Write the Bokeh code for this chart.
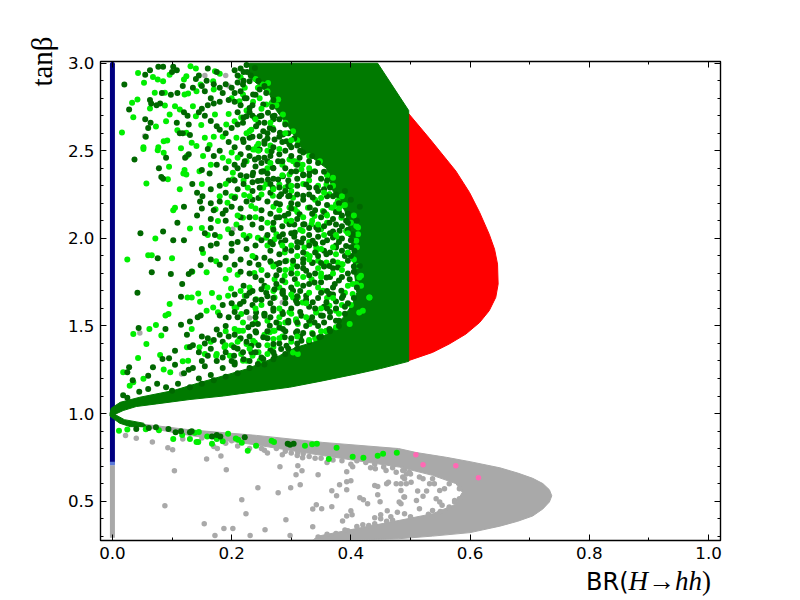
from bokeh.plotting import figure
from bokeh.models import LinearAxis, FixedTicker, Range1d, PrintfTickFormatter, Div
from bokeh.layouts import column
from bokeh.embed import file_html
from bokeh.resources import INLINE

X_MAJOR = [0.0, 0.2, 0.4, 0.6, 0.8, 1.0]
X_MINOR = [0.1, 0.3, 0.5, 0.7, 0.9]
Y_MAJOR = [0.5, 1.0, 1.5, 2.0, 2.5, 3.0]
Y_MINOR = [0.3, 0.4, 0.6, 0.7, 0.8, 0.9, 1.1, 1.2, 1.3, 1.4, 1.6, 1.7, 1.8, 1.9, 2.1, 2.2, 2.3, 2.4, 2.6, 2.7, 2.8, 2.9]

GRAY_REGION = [(.004,.994),(.018,.96),(.05,.94),(.13,.907),(.242,.875),(.353,.835),(.48,.80),(.51,.777),(.56,.75),(.60,.725),(.65,.69),(.68,.66),(.705,.63),(.722,.60),(.733,.565),(.737,.53),(.733,.495),(.722,.455),(.705,.415),(.68,.385),(.65,.357),(.60,.32),(.537,.30),(.48,.285),(.40,.277),(.336,.277),(.345,.30),(.409,.343),(.4816,.39),(.537,.428),(.575,.48),(.587,.55),(.576,.60),(.537,.647),(.4816,.694),(.353,.76),(.242,.82),(.13,.875),(.04,.93),(.0,.97)]
RED_REGION = [(.495,2.72),(.532,2.57),(.576,2.385),(.599,2.262),(.616,2.148),(.632,2.024),(.641,1.938),(.646,1.853),(.647,1.739),(.643,1.663),(.632,1.587),(.616,1.520),(.593,1.454),(.565,1.397),(.537,1.349),(.495,1.30)]
GREEN_REGION = [(-.004,1.0),(-.002,1.03),(.013,1.064),(.046,1.093),(.102,1.131),(.15,1.18),(.197,1.226),(.225,1.254),(.253,1.293),(.28,1.33),(.308,1.378),(.336,1.406),(.364,1.463),(.387,1.549),(.403,1.625),(.41,1.69),(.405,1.83),(.40,2.02),(.39,2.157),(.37,2.27),(.359,2.40),(.32,2.50),(.297,2.63),(.275,2.73),(.264,2.82),(.23,2.92),(.23,3.0),(.445,3.0),(.497,2.73),(.497,1.298),(.45,1.257),(.409,1.226),(.35,1.185),(.297,1.15),(.24,1.125),(.186,1.10),(.13,1.08),(.074,1.055),(.04,1.04),(.018,1.017),(.004,.995),(.02,.965),(.052,.945),(.058,.925),(.03,.925),(.012,.945),(-.004,.985)]
BLUE_Y = [2.995, 0.725]
FADE_Y = [0.725, 0.705]
GRAY_Y = [0.705, 0.29]

GRAY_POINTS = [(.088,.474),(.104,.673),(.158,.741),(.182,.757),(.191,.679),(.154,.371),(.172,.303),(.187,.343),(.202,.343),(.217,.508),(.224,.428),(.231,.303),(.244,.576),(.256,.337),(.278,.548),(.281,.696),(.291,.394),(.298,.303),(.299,.576),(.308,.650),(.315,.593),(.318,.673),(.311,.702),(.319,.747),(.311,.779),(.336,.354),(.336,.455),(.342,.479),(.351,.456),(.345,.650),(.368,.468),(.368,.559),(.381,.593),(.376,.531),(.393,.667),(.393,.610),(.400,.616),(.393,.565),(.403,.696),(.415,.519),(.421,.508),(.428,.485),(.400,.445),(.402,.422),(.393,.415),(.386,.386),(.440,.405),(.450,.422),(.450,.399),(.467,.411),(.461,.445),(.478,.437),(.449,.496),(.445,.536),(.440,.589),(.445,.584),(.460,.599),(.463,.608),(.476,.599),(.484,.599),(.490,.627),(.493,.655),(.459,.675),(.433,.690),(.441,.684),(.476,.665),(.489,.523),(.481,.495),
(.040,.859),(.022,.874),(.067,.838),(.093,.804),(.101,.793),(.118,.855),(.170,.812),(.176,.80),(.21,.815),(.23,.80),(.255,.79),(.26,.775),(.275,.80),(.285,.765),(.30,.775),(.32,.77),(.34,.745),(.37,.735),(.385,.73),(.41,.73),(.425,.72),(.44,.71),(.455,.695),(.47,.69),(.49,.68),(.50,.655),
(.490,.523),(.510,.504),(.515,.457),(.521,.527),(.512,.557),(.527,.557),(.540,.599),(.549,.561),(.557,.570),(.565,.599),(.543,.514),(.549,.495),(.553,.476),(.574,.504),(.582,.514),(.582,.570),(.532,.599),(.537,.627),(.487,.637),(.501,.608),(.493,.599),(.484,.561),(.484,.485),(.490,.428),(.537,.447),(.565,.466),(.574,.495),(.515,.637),(.498,.665),(.487,.675),(.521,.627),
(.41,.355),(.395,.33),(.42,.365),(.44,.37),(.46,.385),(.375,.315),(.36,.31),(.345,.295),(.39,.335),(.43,.36),(.47,.39),(.50,.41),(.53,.425),(.55,.44),(.565,.46),
(.2,.845),(.15,.86),(.25,.80),(.19,.83),(.29,.785),(.31,.76),(.33,.755),(.35,.745),(.36,.72),(.40,.71),
(.046,1.460),(.116,1.226),(.230,1.545),(.285,1.634),(.054,2.584),(.195,2.87),(.202,2.052),(.155,2.93),(.19,2.93)]

PINK_POINTS = [(.509,.764),(.521,.707),(.576,.702),(.614,.633)]

LIGHT_POINTS = [(.016,2.605),(.033,2.774),(.042,2.793),(.035,2.692),(.043,2.945),(.053,2.888),(.068,2.922),(.076,2.907),(.085,2.897),(.071,2.831),(.088,2.831),(.063,2.742),(.088,2.759),(.096,2.707),(.090,2.669),(.073,2.639),(.052,2.521),(.052,2.511),(.057,2.314),(.076,2.503),(.077,2.521),(.086,2.555),(.092,2.559),(.086,2.489),(.095,2.409),(.093,2.337),(.119,2.371),(.124,2.365),(.121,2.39),(.113,2.280),(.115,2.514),(.125,2.470),(.105,2.175),(.102,2.160),(.072,1.999),(.130,2.056),(.146,2.384),(.121,2.821),(.127,2.827),(.120,2.907),(.131,2.983),(.140,2.970),(.124,2.926),(.096,2.935),(.105,2.755),(.113,2.736),(.135,2.755),(.140,2.698),(.149,2.647),(.109,2.618),(.124,2.603),(.133,2.546),(.141,2.527),(.152,2.470),(.163,2.533),(.172,2.954),(.169,2.897),(.141,2.840),(.148,2.878),(.172,2.707),(.155,2.574),
(.173,2.166),(.193,2.204),(.206,2.238),(.221,2.248),(.233,2.185),(.202,2.375),(.202,2.337),(.227,2.289),(.208,2.574),(.205,2.669),(.191,2.650),(.213,2.783),(.236,2.508),(.253,2.289),(.258,2.31),(.177,2.099),(.194,2.052),(.208,2.080),(.219,2.118),(.230,2.014),(.244,2.004),(.258,2.004),(.272,1.995),(.292,2.099),(.319,2.042),(.303,2.232),(.328,2.175),(.353,2.156),(.370,2.175),(.384,2.118),(.392,2.042),(.409,2.071),(.303,2.441),(.311,2.43),(.319,2.42),(.297,2.365),(.280,2.308),(.364,2.251),(.378,2.213),(.252,2.878),(.244,2.86),(.258,2.764),(.286,2.707),(.303,2.612),(.269,2.631),(.216,2.69),(.18,2.94),(.20,2.80),(.17,2.58),(.185,2.46),(.225,2.44),(.26,2.50),(.285,2.42),(.33,2.33),(.345,2.30),(.37,2.30),(.39,2.19),(.405,2.13),(.34,2.22),(.31,2.15),(.36,2.09),(.38,2.00),(.335,2.10),(.27,2.18),(.29,2.29),(.24,2.12),(.26,2.09),(.15,2.06),(.16,2.02),(.18,2.01),
(.025,1.880),(.060,1.904),(.066,1.904),(.100,1.887),(.035,1.454),(.062,1.482),(.073,1.505),(.082,1.445),(.057,1.397),(.043,1.317),(.018,1.236),(.029,1.159),(.035,1.178),(.052,1.198),(.080,1.334),(.086,1.251),(.097,1.236),(.089,1.56),(.094,1.568),(.096,1.625),(.126,1.663),(.144,1.686),(.133,1.663),(.147,1.638),(.167,1.688),(.179,1.663),(.194,1.672),(.199,1.714),(.158,1.806),(.134,1.809),(.152,1.916),(.174,1.87),(.196,1.819),(.210,1.792),(.238,1.802),(.266,1.862),(.292,1.872),(.303,1.853),(.326,1.910),(.342,1.929),(.127,1.302),(.118,1.298),(.125,1.378),(.146,1.378),(.133,1.482),(.158,1.587),(.169,1.606),(.177,1.578),(.208,1.606),(.205,1.482),(.213,1.473),(.188,1.378),(.213,1.426),(.236,1.416),(.264,1.464),(.272,1.473),(.297,1.578),(.303,1.663),(.319,1.634),(.342,1.578),(.375,1.492),(.308,1.530),(.311,1.340),(.225,1.302),(.216,1.340),(.174,1.330),(.197,1.330),(.414,1.777),(.403,1.739),(.386,1.853),(.375,1.910),(.375,1.587),(.420,1.587),(.358,1.47),(.245,1.35),(.26,1.39),(.285,1.44),(.335,1.46),(.345,1.72),(.36,1.66),(.25,1.62),(.27,1.70),(.23,1.72),(.29,1.75),(.32,1.78),(.35,1.80),(.39,1.69),(.40,1.62),(.28,1.55),(.26,1.53),
(.011,.901),(.025,.909),(.056,.91),(.078,.905),(.102,.855),(.117,.878),(.130,.855),(.138,.89),(.145,.895),(.141,.838),(.144,.838),(.167,.827),(.159,.869),(.175,.855),(.185,.842),(.194,.884),(.207,.857),(.211,.85),(.217,.833),(.227,.787),(.241,.816),(.267,.844),(.271,.838),(.323,.816),(.335,.825),(.343,.827),(.363,.741),(.376,.804),(.403,.753),(.421,.747),(.445,.759),(.454,.770),(.477,.776),
(.247,2.80),(.236,2.78),(.230,2.612),(.233,2.62),(.239,2.507),(.242,2.525),(.306,2.441),(.297,2.45),(.308,2.422),(.317,2.393),(.348,2.441),(.339,2.384),(.37,2.346),(.359,2.308),(.261,2.887),(.278,2.793),(.267,2.773),(.219,2.821),(.222,2.86),
(.364,2.252),(.367,2.176),(.375,2.195),(.359,2.138),(.384,2.186),(.334,2.081),(.35,2.052),(.409,1.986),(.412,2.024),(.378,1.863),(.384,1.853),(.359,1.863),(.417,1.786),(.412,1.843),(.417,1.73),(.409,1.739),(.331,1.90),(.345,1.872),(.289,1.92),(.30,1.824),(.334,1.767),(.289,1.787),(.272,1.767),(.311,1.663),(.353,1.701),(.403,1.682),(.431,1.663),(.412,2.062),(.269,2.243),(.269,2.062),(.275,2.024),(.297,2.176),(.306,2.167),(.339,2.128),(.322,1.948),(.342,1.948),
(.205,1.606),(.216,1.568),(.222,1.673),(.241,1.653),(.272,1.663),(.255,1.568),(.211,1.473),(.219,1.473),(.219,1.52),(.214,1.425),(.225,1.397),(.239,1.406),(.27,1.473),(.28,1.511),(.308,1.539),(.311,1.511),(.342,1.577),(.331,1.511),(.375,1.597),(.414,1.577),(.431,1.663),(.219,1.302),(.247,1.302),(.303,1.349),(.27,1.425),(.359,1.473),(.398,1.511),(.364,1.615),
(.32,2.31),(.35,2.23),(.26,2.40),(.30,2.27),(.28,2.16),(.315,2.05),(.355,2.02),(.33,1.98),(.30,1.96),(.26,1.96),(.345,1.83),(.31,1.80),(.28,1.72),(.29,1.52),(.255,1.45),(.24,1.52),(.19,1.47),(.165,1.41),(.155,1.34),(.20,1.39),(.235,1.33),(.27,1.38),(.30,1.41),(.34,1.43),(.385,1.62),(.395,1.73),(.405,1.88),(.41,1.95),(.40,2.09),(.385,2.24),(.36,2.36),(.33,2.47),(.31,2.56),(.29,2.66),(.275,2.76),(.26,2.84),(.24,2.91),(.215,2.92),(.225,2.73),(.245,2.54),(.265,2.53),(.20,2.49),(.22,2.33),(.20,2.24),(.18,2.24),(.24,2.17),(.15,2.31),(.165,2.42),(.185,2.58),(.195,2.71),(.17,2.85)]

DARK_POINTS = [(.020,2.878),(.028,2.736),(.037,2.451),(.047,2.029),(.055,2.935),(.063,2.96),(.055,2.68),(.064,2.66),(.060,2.63),(.056,2.58),(.063,2.79),(.065,2.77),(.074,2.76),(.080,2.77),(.083,2.83),(.098,2.82),(.109,2.83),(.090,2.46),(.078,2.40),(.082,2.35),(.085,2.34),(.085,2.04),(.102,1.99),(.120,1.99),(.109,2.09),(.120,2.18),(.142,2.13),(.134,2.31),(.142,2.26),(.151,2.24),(.147,2.21),(.150,2.39),(.163,2.37),(.077,2.98),(.085,2.98),(.102,2.98),(.108,2.96),(.100,2.95),(.118,2.87),(.12,2.72),(.126,2.70),(.128,2.65),(.108,2.66),(.113,2.60),(.118,2.60),(.13,2.59),(.122,2.46),(.128,2.48),(.14,2.91),(.145,2.93),(.135,2.86),(.15,2.87),(.155,2.84),(.158,2.90),(.16,2.97),(.17,2.88),(.175,2.95),(.18,2.86),(.185,2.83),(.19,2.88),(.20,2.86),(.205,2.83),(.195,2.79),(.21,2.93),(.215,2.97),(.22,2.90),(.165,2.80),(.16,2.76),(.15,2.74),(.17,2.77),(.18,2.78),(.145,2.72),(.155,2.70),(.165,2.67),(.175,2.64),(.18,2.62),(.19,2.60),(.20,2.63),(.21,2.65),(.22,2.69),(.23,2.72),(.235,2.76),(.225,2.80),(.24,2.82),(.25,2.70),(.245,2.66),(.26,2.60),(.27,2.68),(.28,2.58),(.255,2.54),(.235,2.58),(.22,2.55),(.205,2.52),(.195,2.55),(.18,2.50),(.17,2.47),(.16,2.51),(.175,2.42),(.19,2.40),(.205,2.42),(.215,2.48),(.23,2.47),(.245,2.46),(.26,2.44),(.27,2.40),(.28,2.48),(.30,2.52),(.315,2.50),(.33,2.44),(.34,2.38),(.35,2.34),(.32,2.36),(.31,2.30),(.295,2.30),(.27,2.34),(.25,2.38),(.235,2.36),(.215,2.36),(.195,2.33),(.18,2.30),(.165,2.28),(.19,2.26),(.21,2.28),(.235,2.27),(.265,2.26),(.28,2.24),(.30,2.20),(.32,2.22),(.345,2.20),(.36,2.19),(.375,2.25),(.39,2.27),(.40,2.22),(.415,2.18),(.41,2.10),(.395,2.09),(.38,2.15),(.37,2.11),(.35,2.12),(.335,2.14),(.32,2.08),(.31,2.11),(.295,2.14),(.28,2.12),(.265,2.14),(.25,2.16),(.235,2.22),(.215,2.17),(.20,2.18),(.185,2.14),(.165,2.11),(.155,2.03),(.165,2.06),(.172,2.02),(.19,2.10),(.20,2.03),(.215,2.06),(.235,2.08),(.25,2.06),(.27,2.05),(.285,2.07),(.30,2.03),(.305,2.01),(.33,2.02),(.345,2.05),(.37,2.04),(.385,2.07),(.40,2.02),(.28,2.01),(.26,2.02),
(.076,1.887),(.066,1.806),(.098,1.796),(.042,1.69),(.044,1.488),(.089,1.482),(.115,1.667),(.117,1.739),(.128,1.796),(.133,1.811),(.148,1.847),(.115,1.507),(.028,1.264),(.025,1.235),(.034,1.19),(.06,1.216),(.068,1.264),(.084,1.311),(.095,1.315),(.105,1.359),(.105,1.279),(.12,1.23),(.128,1.25),(.135,1.26),(.15,1.30),(.155,1.27),(.125,1.45),(.13,1.525),(.143,1.55),(.148,1.56),(.13,1.38),(.135,1.39),(.155,1.40),(.16,1.43),(.165,1.37),(.175,1.30),(.19,1.35),(.185,1.41),(.175,1.48),(.19,1.50),(.18,1.56),(.185,1.62),(.20,1.63),(.205,1.68),(.22,1.73),(.235,1.70),(.24,1.65),(.225,1.58),(.21,1.55),(.235,1.51),(.24,1.47),(.225,1.41),(.21,1.37),(.245,1.39),(.26,1.43),(.28,1.49),(.295,1.52),(.31,1.47),(.325,1.50),(.335,1.55),(.35,1.56),(.365,1.55),(.38,1.53),(.39,1.61),(.375,1.64),(.36,1.70),(.345,1.66),(.33,1.61),(.315,1.58),(.30,1.60),(.285,1.58),(.27,1.60),(.255,1.57),(.26,1.67),(.275,1.74),(.285,1.69),(.30,1.72),(.315,1.70),(.33,1.74),(.34,1.80),(.365,1.78),(.38,1.76),(.395,1.80),(.405,1.84),(.39,1.90),(.37,1.87),(.355,1.84),(.335,1.86),(.32,1.83),(.30,1.80),(.28,1.82),(.26,1.79),(.25,1.76),(.245,1.85),(.255,1.89),(.23,1.86),(.215,1.88),(.205,1.85),(.19,1.89),(.18,1.85),(.165,1.88),(.20,1.93),(.225,1.94),(.24,1.96),(.265,1.93),(.28,1.91),(.30,1.93),(.31,1.95),(.33,1.96),(.355,1.93),(.375,1.96),(.40,1.95),(.20,1.97),(.175,1.97),(.165,1.96),(.15,1.94),(.29,1.66),(.31,1.40),(.295,1.37),(.27,1.35),(.25,1.32),(.23,1.30),(.205,1.28),(.185,1.26),(.165,1.22),(.145,1.20),(.11,1.17),(.09,1.15),(.075,1.17),(.06,1.14),(.045,1.125),(.025,1.09),(.018,1.105),
(.040,.912),(.061,.918),(.073,.922),(.094,.912),(.106,.893),(.115,.899),(.130,.893),(.133,.899),(.167,.869),(.175,.878),(.181,.869),(.222,.865),(.294,.827),(.298,.822),(.304,.827),
(.239,2.973),(.230,2.897),(.219,2.878),(.247,2.85),(.236,2.821),(.222,2.80),(.230,2.745),(.253,2.764),(.261,2.717),(.269,2.697),(.247,2.697),(.239,2.688),(.225,2.697),(.219,2.66),(.241,2.64),(.253,2.612),(.264,2.631),(.281,2.603),(.286,2.593),(.292,2.555),(.297,2.536),(.272,2.565),(.255,2.555),(.247,2.583),(.230,2.574),(.219,2.564),(.228,2.517),(.247,2.507),(.267,2.498),(.278,2.441),(.255,2.46),(.239,2.45),(.222,2.441),(.269,2.403),(.253,2.384),(.236,2.375),(.225,2.355),(.286,2.355),(.278,2.336),(.261,2.336),(.244,2.327),(.247,2.289),(.269,2.289),(.297,2.298),(.308,2.384),(.320,2.365),(.331,2.384),(.325,2.308),(.342,2.289),(.314,2.46),
(.283,2.252),(.281,2.195),(.297,2.243),(.320,2.243),(.336,2.233),(.311,2.195),(.331,2.176),(.314,2.138),(.289,2.129),(.275,2.119),(.297,2.081),(.322,2.081),(.342,2.062),(.286,2.024),(.306,2.033),(.269,1.967),(.283,1.976),(.317,1.976),(.336,1.986),(.353,1.976),(.370,2.005),(.381,2.043),(.364,2.09),(.392,2.10),(.403,2.024),(.392,1.957),(.375,1.948),(.359,1.91),(.336,1.863),(.320,1.881),(.303,1.872),(.275,1.853),(.325,1.815),(.306,1.767),(.286,1.701),(.272,1.71),(.303,1.701),(.320,1.73),(.339,1.748),(.359,1.777),(.373,1.739),(.384,1.701),(.364,1.682),(.398,1.767),(.395,1.872),(.415,1.843),(.406,1.929),(.364,1.843),(.378,1.834),
(.225,1.673),(.214,1.625),(.230,1.69),(.258,1.69),(.286,1.682),(.308,1.644),(.336,1.635),(.359,1.635),(.364,1.682),(.387,1.673),(.325,1.673),(.27,1.587),(.286,1.568),(.255,1.558),(.241,1.577),(.244,1.511),(.228,1.492),(.241,1.463),(.264,1.501),(.286,1.482),(.295,1.53),(.317,1.558),(.339,1.52),(.353,1.558),(.375,1.53),(.364,1.482),(.336,1.454),(.308,1.463),(.289,1.435),(.27,1.397),(.253,1.435),(.233,1.387),(.219,1.35),(.204,1.378),(.204,1.33),(.205,1.292),(.233,1.35),(.253,1.311),(.272,1.33),(.292,1.387),(.317,1.416),(.347,1.435),(.244,1.283),(.283,1.368),
(.225,2.99),(.226,2.95),(.232,2.93),(.245,2.90),(.255,2.87),(.258,2.83),(.27,2.79),(.268,2.75),(.272,2.70),(.28,2.68),(.29,2.65),(.295,2.60),(.305,2.57),(.31,2.53),(.32,2.49),(.335,2.47),(.345,2.43),(.355,2.38),(.36,2.33),(.365,2.29),(.37,2.24),(.38,2.20),(.385,2.13),(.395,2.05),(.40,1.99),(.40,1.90),(.405,1.81),(.41,1.72),(.405,1.66),(.395,1.63),(.39,1.57),(.38,1.50),(.365,1.47),(.35,1.44),(.33,1.41),(.31,1.37),(.29,1.34),(.27,1.31),(.255,1.28),(.23,1.26),(.21,1.23),(.19,1.21),(.17,1.19),(.15,1.17),(.13,1.15),(.10,1.13),
(.205,2.96),(.22,2.95),(.21,2.89),(.215,2.84),(.205,2.78),(.215,2.76),(.21,2.72),(.235,2.70),(.255,2.66),(.27,2.62),(.26,2.57),(.285,2.55),(.27,2.52),(.29,2.50),(.30,2.47),(.285,2.44),(.265,2.47),(.29,2.40),(.30,2.38),(.31,2.34),(.295,2.33),(.28,2.29),(.265,2.31),(.25,2.33),(.235,2.32),(.22,2.31),(.205,2.33),(.21,2.40),(.22,2.42),(.24,2.41),(.25,2.43),(.33,2.29),(.345,2.27),(.36,2.24),(.355,2.28),(.33,2.25),(.31,2.25),(.295,2.24),(.275,2.20),(.26,2.21),(.245,2.23),(.225,2.21),(.205,2.23),(.18,2.21),(.165,2.20),(.15,2.17),(.17,2.16),(.19,2.16),(.215,2.12),(.23,2.12),(.25,2.11),(.27,2.09),(.305,2.08),(.33,2.06),(.355,2.07),(.375,2.08),(.395,2.14),(.38,1.98),(.36,1.99),(.345,2.01),(.32,2.00),(.29,1.99),(.265,1.98),(.25,1.99),(.225,2.00),(.21,1.98),(.29,1.94),(.32,1.92),(.345,1.90),(.365,1.92),(.385,1.93),(.35,1.86),(.32,1.86),(.29,1.87),(.265,1.87),(.24,1.89),(.275,1.79),(.255,1.73),(.24,1.78),(.215,1.81),(.23,1.80),(.35,1.75),(.37,1.72),(.385,1.66),(.375,1.60),(.355,1.61),(.34,1.60),(.31,1.63),(.29,1.63),(.265,1.63),(.25,1.65),(.235,1.62),(.22,1.64),(.205,1.58),(.195,1.55),(.205,1.45),(.195,1.44),(.18,1.45),(.17,1.42),(.15,1.44),(.145,1.35),(.16,1.33),(.185,1.32),(.20,1.30),(.22,1.31),(.215,1.43),(.23,1.44),(.26,1.47),(.275,1.52),(.31,1.52),(.32,1.46),(.345,1.50),(.355,1.52),(.365,1.58),(.3,1.43),(.315,1.44),(.28,1.40),(.265,1.36),(.24,1.35),
(.31,2.42),(.33,2.36),(.29,2.27),(.26,2.37),(.30,2.17),(.34,2.16),(.355,2.15),(.375,2.15),(.385,2.00),(.365,2.03),(.34,1.97),(.31,1.98),(.34,1.92),(.31,1.84),(.28,1.86),(.33,1.79),(.37,1.83),(.385,1.78),(.37,1.68),(.35,1.69),(.325,1.65),(.31,1.67),(.285,1.76),(.27,1.66),(.25,1.71),(.24,1.55),(.265,1.55),(.29,1.47),(.33,1.53),(.36,1.60)]

LIGHT_TOP_POINTS = [(.30,2.30),(.33,2.40),(.355,2.26),(.38,2.17),(.395,2.03),(.37,1.95),(.35,1.94),(.33,1.88),(.31,1.90),(.285,1.96),(.30,2.10),(.32,2.12),(.345,2.08),(.36,2.13),(.375,2.02),(.395,1.92),(.385,1.82),(.37,1.80),(.35,1.78),(.33,1.69),(.31,1.74),(.29,1.82),(.27,1.84),(.25,1.82),(.235,1.90),(.22,2.02),(.25,2.25),(.27,2.28),(.285,2.36),(.265,2.43),(.245,2.50),(.28,2.51),(.30,2.56),(.29,2.60),(.265,2.66),(.25,2.74),(.24,2.68),(.225,2.60),(.21,2.46),(.195,2.44),(.19,2.31),(.23,2.24),(.21,2.13),(.26,1.72),(.28,1.60),(.30,1.57),(.325,1.55),(.35,1.60),(.37,1.66),(.38,1.57),(.35,1.47),(.33,1.42),(.31,1.44),(.28,1.43),(.26,1.34),(.23,1.37),(.21,1.41),(.19,1.39),(.175,1.34),(.24,1.60),(.215,1.70),(.19,1.77),(.30,1.68),(.325,1.63)]

Y_LABEL = "tanβ"
X_LABEL_HTML = ('<span style="font:24px \'DejaVu Sans\';color:#000">BR(</span>'
                '<span style="font:italic 27px \'Liberation Serif\';color:#000">H→hh</span>'
                '<span style="font:27px \'Liberation Serif\';color:#000">)</span>')


def xs(points):
    return [pt[0] for pt in points]


def ys(points):
    return [pt[1] for pt in points]


p = figure(frame_width=620, frame_height=479, min_border_left=100, min_border_right=64,
           min_border_top=61, min_border_bottom=26, output_backend="svg", toolbar_location=None,
           x_range=Range1d(-0.02, 1.02), y_range=Range1d(0.275, 3.01), background_fill_color="white")
p.grid.visible = False
p.outline_line_color = "black"
p.outline_line_width = 1.4

x_ticks = FixedTicker(ticks=X_MAJOR, minor_ticks=X_MINOR)
y_ticks = FixedTicker(ticks=Y_MAJOR, minor_ticks=Y_MINOR)
p.xaxis.ticker = x_ticks
p.yaxis.ticker = y_ticks
for ax in (p.xaxis[0], p.yaxis[0]):
    ax.formatter = PrintfTickFormatter(format="%.1f")
    ax.major_label_text_font = "DejaVu Sans"
    ax.major_label_text_font_size = "16.7px"
    ax.major_label_text_color = "black"
    ax.major_label_standoff = 6
ya = p.yaxis[0]
ya.axis_label = Y_LABEL
ya.axis_label_text_font = "Liberation Serif"
ya.axis_label_text_font_style = "normal"
ya.axis_label_text_font_size = "29px"
ya.axis_label_text_color = "black"
ya.axis_label_standoff = 7
ya.axis_label_align = "end"
p.add_layout(LinearAxis(ticker=x_ticks, major_label_text_color=None, major_label_text_font_size="1px", major_label_standoff=0), "above")
p.add_layout(LinearAxis(ticker=y_ticks, major_label_text_color=None, major_label_text_font_size="1px", major_label_standoff=0), "right")
for ax in p.above + p.below + p.left + p.right:
    ax.major_tick_in = 6
    ax.major_tick_out = 0
    ax.minor_tick_in = 3
    ax.minor_tick_out = 0
    ax.axis_line_color = "black"
    ax.major_tick_line_color = "black"
    ax.minor_tick_line_color = "black"

p.patch(xs(GRAY_REGION), ys(GRAY_REGION), color="#a9a9a9", line_width=1)
p.scatter(xs(GRAY_POINTS), ys(GRAY_POINTS), size=5.5, color="#a9a9a9", line_width=0)
p.line([0, 0], GRAY_Y, color="#a9a9a9", line_width=5)
p.line([0, 0], BLUE_Y, color="#000080", line_width=5, line_cap="round")
p.line([0, 0], FADE_Y, color="#5a78d8", line_width=5)
p.scatter(xs(PINK_POINTS), ys(PINK_POINTS), size=5.5, color="#ff69b4", line_width=0)
p.patch(xs(RED_REGION), ys(RED_REGION), color="#ff0000", line_width=1)
p.patch(xs(GREEN_REGION), ys(GREEN_REGION), color="#007a00", line_width=1)
p.scatter(xs(LIGHT_POINTS), ys(LIGHT_POINTS), size=6, color="#00ee00", line_width=0)
p.scatter(xs(DARK_POINTS), ys(DARK_POINTS), size=6, color="#006800", line_width=0)
p.scatter(xs(LIGHT_TOP_POINTS), ys(LIGHT_TOP_POINTS), size=6, color="#00ee00", line_width=0)

x_label = Div(text=X_LABEL_HTML, width=190, height=26, margin=(0, 0, 0, 586),
              styles={"line-height": "20px", "white-space": "nowrap"})

page = column(p, x_label, spacing=0)
open("out.html", "w").write(file_html(page, INLINE))
